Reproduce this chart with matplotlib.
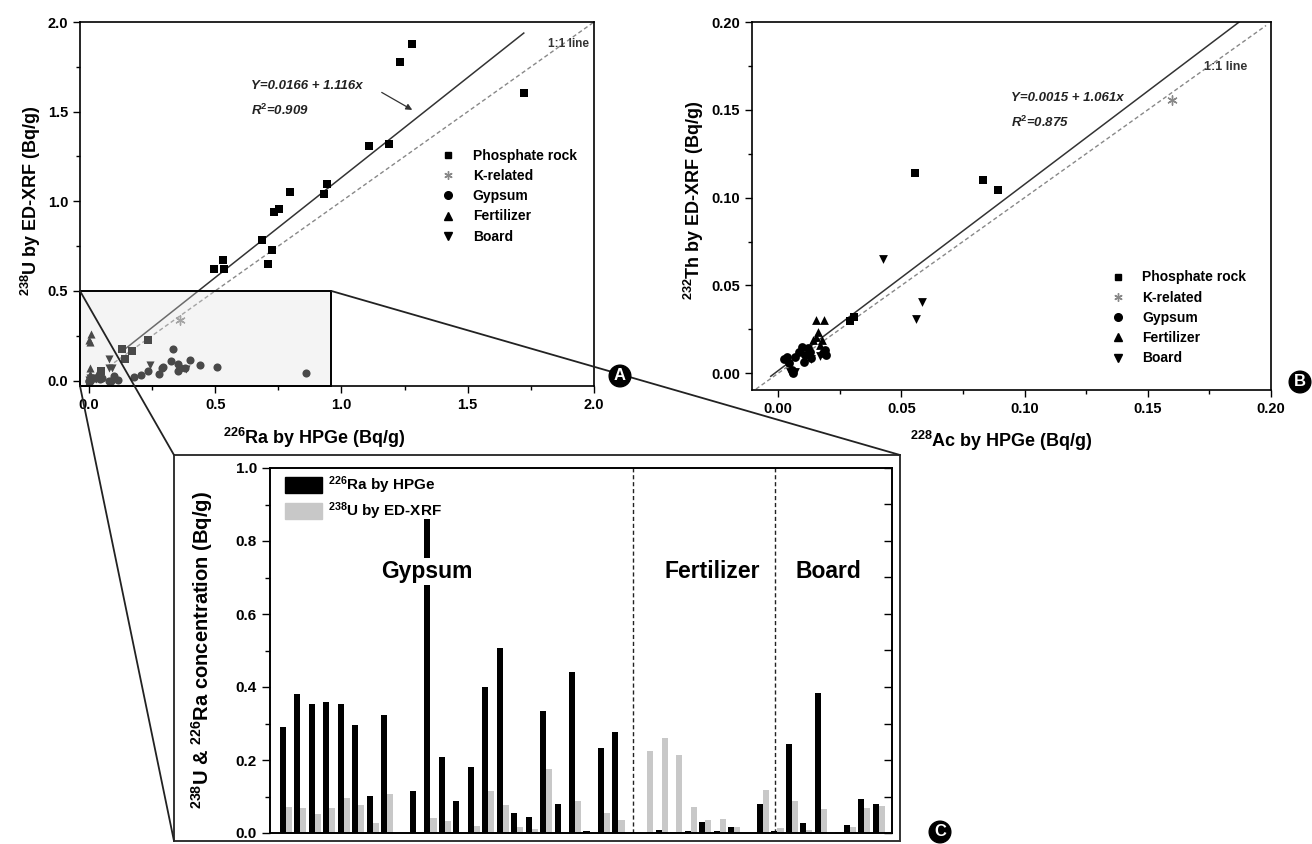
import matplotlib
matplotlib.use('Agg')
import matplotlib.pyplot as plt
from matplotlib.patches import Rectangle, ConnectionPatch
from matplotlib.lines import Line2D
from matplotlib.ticker import MultipleLocator, FormatStrFormatter
import numpy as np

plt.rcParams['font.family'] = ['Liberation Sans', 'DejaVu Sans']
plt.rcParams['font.weight'] = 'bold'
plt.rcParams['axes.labelweight'] = 'bold'
plt.rcParams['mathtext.fontset'] = 'custom'
plt.rcParams['mathtext.rm'] = 'Liberation Sans:bold'
plt.rcParams['mathtext.it'] = 'Liberation Sans:bold:italic'
plt.rcParams['mathtext.bf'] = 'Liberation Sans:bold'
plt.rcParams['axes.linewidth'] = 1.2

# ---- panel A : 226Ra (HPGe) vs 238U (ED-XRF), Bq/g ----
phos_ra = [1.281, 1.231, 1.722, 1.110, 1.190, 0.942, 0.930, 0.796, 0.733, 0.752,
           0.687, 0.726, 0.710, 0.496, 0.532, 0.534, 0.235, 0.131, 0.172, 0.142, 0.050]
phos_u = [1.880, 1.778, 1.604, 1.307, 1.320, 1.096, 1.043, 1.054, 0.939, 0.957,
          0.787, 0.730, 0.648, 0.620, 0.670, 0.624, 0.229, 0.175, 0.166, 0.120, 0.052]
k_ra = [0.361]
k_u = [0.339]

# ---- panel C bars (also gypsum / fertilizer / board points of panel A) ----
ra_hpge = [0.290, 0.380, 0.353, 0.359, 0.353, 0.295, 0.101, 0.324, 0.000, 0.114,
           0.860, 0.207, 0.089, 0.180, 0.400, 0.507, 0.054, 0.045, 0.335, 0.079,
           0.441, 0.005, 0.233, 0.276, 0.000,
           0.000, 0.008, 0.004, 0.006, 0.031, 0.006, 0.016, 0.000, 0.079,
           0.005, 0.244, 0.028, 0.383, 0.000, 0.022, 0.093, 0.080]
u_xrf = [0.072, 0.069, 0.052, 0.069, 0.095, 0.076, 0.028, 0.107, 0.000, 0.003,
         0.041, 0.034, 0.000, 0.019, 0.114, 0.076, 0.017, 0.010, 0.176, 0.000,
         0.087, 0.000, 0.054, 0.036, 0.000,
         0.224, 0.261, 0.214, 0.072, 0.036, 0.038, 0.016, 0.000, 0.119,
         0.013, 0.089, 0.007, 0.066, 0.003, 0.016, 0.068, 0.073]
sample_type = ['Gypsum'] * 25 + ['Fertilizer'] * 8 + ['Board'] * 9
group_names = ['Gypsum', 'Fertilizer', 'Board']
group_label_x = [9.72, 29.5, 37.5]
group_breaks = [24.0, 33.8]

# ---- panel B : 228Ac (HPGe) vs 232Th (ED-XRF), Bq/g ----
phos_ac = [0.0556, 0.0832, 0.0891, 0.0290, 0.0306]
phos_th = [0.1141, 0.1100, 0.1043, 0.0300, 0.0322]
kb_ac = [0.160]
kb_th = [0.1558]
gyp_ac = [0.0022, 0.0035, 0.0046, 0.0069, 0.0083, 0.0096, 0.0110, 0.0123,
          0.0130, 0.0133, 0.0103, 0.0181, 0.0190, 0.0195, 0.0056, 0.0062]
gyp_th = [0.0080, 0.0095, 0.0057, 0.0095, 0.0123, 0.0151, 0.0104, 0.0142,
          0.0123, 0.0085, 0.0066, 0.0114, 0.0133, 0.0104, 0.0019, 0.0004]
fert_ac = [0.0155, 0.0187, 0.0143, 0.0154, 0.0160, 0.0177, 0.0170]
fert_th = [0.0303, 0.0303, 0.0190, 0.0208, 0.0237, 0.0190, 0.0161]
board_ac = [0.0425, 0.0583, 0.0559, 0.0050, 0.0070, 0.0135, 0.0170]
board_th = [0.0648, 0.0408, 0.0309, 0.0010, 0.0005, 0.0080, 0.0100]

fitA = (0.0166, 1.116)
fitB = (0.0015, 1.061)

W, H = 1312, 844
fig = plt.figure(figsize=(W / 100, H / 100), dpi=100)


def box(l, t, r, b):
    return [l / W, 1 - b / H, (r - l) / W, (b - t) / H]


axA = fig.add_axes(box(80, 22, 594, 386))
axB = fig.add_axes(box(752, 22, 1271, 390))
frameC = fig.add_axes(box(174, 455, 900, 841))
axC = fig.add_axes(box(270, 468, 892, 833))

legend_labels = ['Phosphate rock', 'K-related', 'Gypsum', 'Fertilizer', 'Board']
legend_handles = [
    Line2D([], [], marker='s', ls='none', color='black', markersize=5),
    Line2D([], [], marker=(6, 2, 0), ls='none', color='#888888', markersize=6, markeredgewidth=1),
    Line2D([], [], marker='o', ls='none', color='black', markersize=5.5),
    Line2D([], [], marker='^', ls='none', color='black', markersize=5.5),
    Line2D([], [], marker='v', ls='none', color='black', markersize=5.5),
]


def style_scatter_axes(ax, major, minor):
    ax.xaxis.set_major_locator(MultipleLocator(major))
    ax.xaxis.set_minor_locator(MultipleLocator(minor))
    ax.yaxis.set_major_locator(MultipleLocator(major))
    ax.yaxis.set_minor_locator(MultipleLocator(minor))
    ax.tick_params(which='both', direction='out', top=False, right=False, width=1)
    ax.tick_params(which='major', length=5, labelsize=10.5)
    ax.tick_params(which='minor', length=3)


# ---------------- panel A ----------------
axA.set_xlim(-0.035, 2.0)
axA.set_ylim(-0.03, 2.0)
style_scatter_axes(axA, 0.5, 0.25)
axA.xaxis.set_major_formatter(FormatStrFormatter('%.1f'))
axA.yaxis.set_major_formatter(FormatStrFormatter('%.1f'))

ra = np.array(ra_hpge)
ux = np.array(u_xrf)
types = np.array(sample_type)
axA.scatter(phos_ra, phos_u, marker='s', s=30, color='black', zorder=3, linewidths=0)
axA.scatter(k_ra, k_u, marker=(6, 2, 0), s=45, color='#888888', zorder=3, linewidths=1)
for name, mk in [('Gypsum', 'o'), ('Fertilizer', '^'), ('Board', 'v')]:
    sel = types == name
    axA.scatter(ra[sel], ux[sel], marker=mk, s=34, color='black', zorder=3, linewidths=0)

xs = np.array([min(phos_ra[:-1]), max(phos_ra)])
axA.plot(xs, fitA[0] + fitA[1] * xs, color='#333333', lw=1.1, zorder=2)
one = np.array([0.1, 2.0])
axA.plot(one, one, color='#888888', lw=1.0, ls=(0, (3, 2)), zorder=2)

axA.text(0.642, 1.641, 'Y=0.0166 + 1.116x', style='italic', fontsize=9.5, va='center', color='#222222')
axA.text(0.642, 1.506, r'R$^{2}$=0.909', style='italic', fontsize=9.5, va='center', color='#222222')
axA.annotate('', xy=(1.29, 1.502), xytext=(1.15, 1.615),
             arrowprops=dict(arrowstyle='-|>', lw=0.9, color='#333333', mutation_scale=9))
axA.text(1.816, 1.88, '1:1 line', fontsize=8.5, va='center', color='#333333')

xmin, ymin = axA.get_xlim()[0], axA.get_ylim()[0]
zoom_box = Rectangle((xmin, ymin), 0.96 - xmin, 0.5 - ymin, facecolor=(0.87, 0.87, 0.87, 0.33),
                     edgecolor='black', lw=1.4, zorder=4, clip_on=False)
axA.add_patch(zoom_box)

axA.legend(legend_handles, legend_labels, loc='upper left', bbox_to_anchor=(0.702, 0.652),
           frameon=False, fontsize=10, borderpad=0, borderaxespad=0, handlelength=1,
           handletextpad=1.3, labelspacing=0.45)
axA.set_xlabel(r'$^{226}$Ra by HPGe (Bq/g)', fontsize=13)
axA.set_ylabel(r'$^{238}$U by ED-XRF (Bq/g)', fontsize=13)
axA.xaxis.set_label_coords(0.455, -0.11)
axA.yaxis.set_label_coords(-0.072, 0.51)

# ---------------- panel B ----------------
axB.set_xlim(-0.0106, 0.2)
axB.set_ylim(-0.0095, 0.2)
style_scatter_axes(axB, 0.05, 0.025)
axB.xaxis.set_major_formatter(FormatStrFormatter('%.2f'))
axB.yaxis.set_major_formatter(FormatStrFormatter('%.2f'))
axB.scatter(phos_ac, phos_th, marker='s', s=30, color='black', zorder=3, linewidths=0)
axB.scatter(kb_ac, kb_th, marker=(6, 2, 0), s=45, color='#888888', zorder=3, linewidths=1)
axB.scatter(gyp_ac, gyp_th, marker='o', s=40, color='black', zorder=3, linewidths=0)
axB.scatter(fert_ac, fert_th, marker='^', s=40, color='black', zorder=3, linewidths=0)
axB.scatter(board_ac, board_th, marker='v', s=40, color='black', zorder=3, linewidths=0)

xb = np.array([-0.003, 0.188])
axB.plot(xb, fitB[0] + fitB[1] * xb, color='#333333', lw=1.1, zorder=2)
oneb = np.array([-0.009, 0.198])
axB.plot(oneb, oneb, color='#888888', lw=1.0, ls=(0, (3, 2)), zorder=2)
axB.text(0.0946, 0.157, 'Y=0.0015 + 1.061x', style='italic', fontsize=9.5, va='center', color='#222222')
axB.text(0.0946, 0.143, r'R$^{2}$=0.875', style='italic', fontsize=9.5, va='center', color='#222222')
axB.text(0.1727, 0.1744, '1:1 line', fontsize=9, va='center', color='#333333')
axB.legend(legend_handles, legend_labels, loc='upper left', bbox_to_anchor=(0.691, 0.325),
           frameon=False, fontsize=10, borderpad=0, borderaxespad=0, handlelength=1,
           handletextpad=1.25, labelspacing=0.45)
axB.set_xlabel(r'$^{228}$Ac by HPGe (Bq/g)', fontsize=13)
axB.set_ylabel(r'$^{232}$Th by ED-XRF (Bq/g)', fontsize=13)
axB.xaxis.set_label_coords(0.481, -0.107)
axB.yaxis.set_label_coords(-0.088, 0.516)

# ---------------- panel C ----------------
frameC.set_xticks([])
frameC.set_yticks([])
frameC.patch.set_alpha(0)
for sp in frameC.spines.values():
    sp.set_linewidth(1.4)
    sp.set_color('#333333')

idx = np.arange(len(ra_hpge))
axC.bar(idx - 0.21, ra_hpge, width=0.42, color='black', zorder=2)
axC.bar(idx + 0.21, u_xrf, width=0.42, color='#c8c8c8', zorder=2)
axC.set_xlim(-1.1, 41.92)
axC.set_ylim(0, 1.0)
axC.set_xticks([])
axC.yaxis.set_major_locator(MultipleLocator(0.2))
axC.yaxis.set_minor_locator(MultipleLocator(0.1))
axC.yaxis.set_major_formatter(FormatStrFormatter('%.1f'))
axC.tick_params(axis='y', which='both', direction='out', width=1)
axC.tick_params(axis='y', which='major', length=6, labelsize=11)
axC.tick_params(axis='y', which='minor', length=3.5)
axR = axC.twinx()
axR.set_ylim(axC.get_ylim())
axR.yaxis.set_major_locator(MultipleLocator(0.1))
axR.tick_params(axis='y', direction='in', length=6, width=1, labelright=False)

for xb_ in group_breaks:
    axC.axvline(xb_, color='#222222', lw=1.0, ls=(0, (3, 2)), zorder=1)
for name, gx in zip(group_names, group_label_x):
    axC.text(gx, 0.717, name, fontsize=16.5, ha='center', va='center', zorder=3,
             bbox=dict(facecolor='white', edgecolor='none', pad=1.5) if name == 'Gypsum' else None)

c_handles = [Rectangle((0, 0), 1, 1, color='black'), Rectangle((0, 0), 1, 1, color='#c8c8c8')]
axC.legend(c_handles, [r'$^{226}$Ra by HPGe', r'$^{238}$U by ED-XRF'], loc='upper left',
           bbox_to_anchor=(0.024, 0.982), frameon=False, fontsize=11, borderpad=0,
           borderaxespad=0, handlelength=2.4, handleheight=1.2, handletextpad=0.4,
           labelspacing=0.3)
axC.set_ylabel(r'$^{238}$U & $^{226}$Ra concentration (Bq/g)', fontsize=14.5)
axC.yaxis.set_label_coords(-0.088, 0.5)

# zoom connectors from the shaded box in A to the frame of C
for pa, pb in [((xmin, 0.5), (0, 1)), ((xmin, ymin), (0, 0)), ((0.96, 0.5), (1, 1))]:
    con = ConnectionPatch(xyA=pa, coordsA=axA.transData, xyB=pb, coordsB=frameC.transAxes,
                          color='#222222', lw=1.3)
    fig.add_artist(con)

# panel letters
for letter, (px, py) in [('A', (620, 376)), ('B', (1300, 382)), ('C', (940, 832))]:
    fig.text(px / W, 1 - py / H, letter, color='white', fontsize=12, ha='center', va='center',
             bbox=dict(boxstyle='circle,pad=0.2', facecolor='black', edgecolor='black'))

fig.savefig('out.png', dpi=100)
